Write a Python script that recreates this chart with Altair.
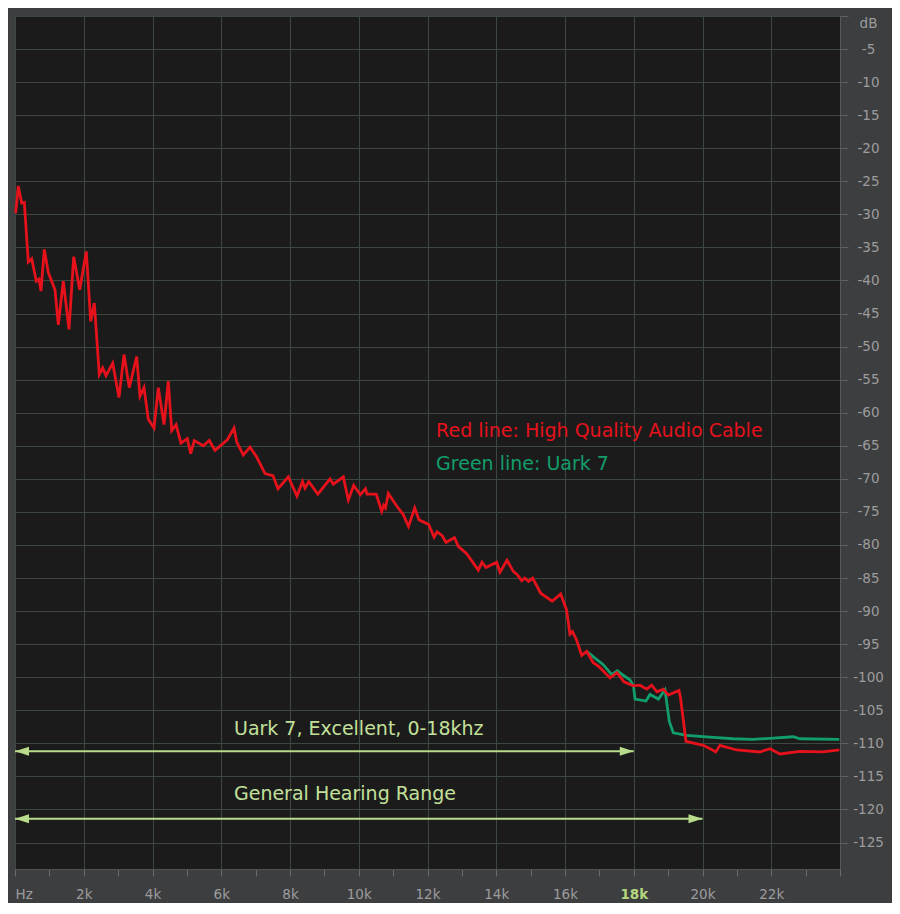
import altair as alt
import pandas as pd

# ---------------- data (Hz, dB) ----------------
red_f = [20, 96, 195, 271, 387, 486, 620, 698, 756, 852, 969, 1164, 1260, 1405, 1571, 1708,
         1882, 2074, 2202, 2307, 2452, 2551, 2647, 2842, 3025, 3171, 3325, 3540, 3636, 3753,
         3878, 4044, 4169, 4335, 4460, 4559, 4684, 4829, 5012, 5111, 5216, 5478, 5652, 5818,
         6176, 6371, 6449, 6641, 6836, 7031, 7273, 7505, 7651, 7951, 8204, 8364, 8436, 8544,
         8809, 9164, 9260, 9551, 9696, 9853, 10045, 10196, 10240, 10508, 10668, 10726, 10778,
         10860, 11104, 11296, 11447, 11628, 11753, 12035, 12192, 12279, 12428, 12538, 12786,
         12896, 13140, 13478, 13585, 13702, 14013, 14109, 14313, 14496, 14612, 14741, 14831,
         14938, 15060, 15293, 15627, 15875, 16044, 16145, 16218, 16340, 16486, 16631, 16823,
         16989, 17309, 17513, 17716, 17987, 18182, 18377, 18522, 18676, 18860, 19005, 19316,
         19360, 19520, 20023, 20218, 20384, 20509, 20995, 21673, 21964, 22255, 22836, 23514,
         23980]
red_db = [-29.8, -25.7, -28.3, -28.2, -37.2, -36.7, -40.1, -39.8, -41.6, -35.3, -38.8, -41.4,
          -46.7, -40.1, -47.4, -36.4, -41.4, -35.6, -46.2, -43.4, -54.2, -53.2, -54.4, -52.5,
          -57.7, -51.2, -56.2, -51.5, -57.5, -56.2, -61.0, -62.3, -56.2, -61.8, -55.2, -62.7,
          -61.8, -64.6, -63.9, -66.2, -64.2, -65.0, -64.2, -65.7, -64.1, -62.3, -64.4, -66.4,
          -65.2, -66.7, -69.2, -69.5, -71.5, -69.7, -72.6, -70.4, -71.4, -70.4, -72.3, -70.0,
          -70.8, -69.7, -73.2, -71.0, -72.4, -71.5, -72.3, -72.3, -74.9, -74.0, -74.4, -72.2,
          -74.1, -75.4, -77.2, -74.4, -76.2, -76.9, -78.8, -78.0, -78.6, -79.6, -78.9, -80.2,
          -81.3, -83.8, -82.6, -83.4, -82.6, -84.1, -82.3, -84.0, -84.5, -85.4, -85.0, -85.5,
          -85.0, -87.3, -88.5, -87.4, -89.8, -93.5, -93.1, -94.4, -96.7, -96.1, -97.8, -98.4,
          -100.1, -99.3, -100.7, -101.3, -101.2, -101.8, -101.2, -102.2, -101.8, -102.7,
          -102.0, -103.1, -109.7, -110.3, -110.8, -111.3, -110.3, -111.0, -111.3, -110.8,
          -111.6, -111.2, -111.3, -111.0]

green_f = [16631, 16873, 17114, 17359, 17522, 17696, 17891, 17993, 18036, 18356, 18473, 18714,
           18909, 19034, 19150, 19540, 20314, 20896, 21478, 22060, 22642, 22836, 23980]
green_db = [-96.1, -97.1, -98.1, -99.6, -99.0, -99.7, -100.4, -101.3, -103.3, -103.6, -102.6,
            -103.3, -101.9, -106.7, -108.4, -108.8, -109.1, -109.3, -109.4, -109.2, -109.0,
            -109.3, -109.4]

ann_text = ["Red line: High Quality Audio Cable", "Green line: Uark 7",
            "Uark 7, Excellent, 0-18khz", "General Hearing Range"]
ann_f = [12250, 12250, 6370, 6370]
ann_db = [-62.7, -67.7, -107.8, -117.7]

arrow_start = [0, 0]
arrow_end = [18000, 20000]
arrow_db = [-111.2, -121.4]

y_ticks = [0] + [-5 * i for i in range(1, 26)]
x_ticks = list(range(0, 24001, 1000))

# ---------------- styling ----------------
RED = "#e5121c"
GREEN = "#129e6b"
LIGHT = "#c3e09a"
ARROW = "#b9dc8c"
LABEL = "#9c9c9c"
GRID = "#3b473f"
FONT = "DejaVu Sans"

red_df = pd.DataFrame({"f": red_f, "db": red_db})
green_df = pd.DataFrame({"f": green_f, "db": green_db})
ann_df = pd.DataFrame({"f": ann_f, "db": ann_db, "t": ann_text,
                       "c": [RED, GREEN, LIGHT, LIGHT]})
arr_df = pd.DataFrame({"f": arrow_start, "f2": arrow_end, "db": arrow_db})

x_axis = alt.Axis(
    values=x_ticks, title=None, orient="bottom",
    labelExpr="datum.value === 0 ? 'Hz' : ((datum.value % 2000 === 0 && datum.value < 24000) ? (datum.value / 1000) + 'k' : '')",
    labelColor={"condition": {"test": "datum.value === 18000", "value": "#b3d67f"}, "value": LABEL},
    labelFontWeight={"condition": {"test": "datum.value === 18000", "value": "bold"}, "value": "normal"},
    labelFontSize=13.5, labelFont=FONT, labelPadding=11,
    tickSize=7, tickColor="#6a6a6a", domainColor="#505152",
    grid=True, gridColor=GRID,
    gridOpacity={"condition": {"test": "datum.value % 2000 === 0", "value": 1}, "value": 0},
)
y_axis = alt.Axis(
    values=y_ticks, title=None, orient="right",
    labelExpr="datum.value === 0 ? 'dB' : '-' + abs(datum.value)",
    labelAlign="center", labelPadding=20, labelFlush=True,
    labelFontSize=13.5, labelFont=FONT, labelColor=LABEL,
    tickSize=8, tickColor="#5f5f5f", domainColor="#575859",
    grid=True, gridColor=GRID,
)

X = alt.X("f:Q", scale=alt.Scale(domain=[0, 24000], nice=False, zero=False), axis=x_axis)
Y = alt.Y("db:Q", scale=alt.Scale(domain=[-129, 0], nice=False, zero=False), axis=y_axis)

green_line = alt.Chart(green_df).mark_line(color=GREEN, strokeWidth=2.8).encode(x=X, y=Y)
red_line = alt.Chart(red_df).mark_line(color=RED, strokeWidth=2.8).encode(x=X, y=Y)

texts = alt.Chart(ann_df).mark_text(
    align="left", baseline="middle", fontSize=19, font=FONT
).encode(x=X, y=Y, text="t:N", color=alt.Color("c:N", scale=None))

rules = alt.Chart(arr_df).mark_rule(color=ARROW, strokeWidth=2).encode(x=X, x2="f2:Q", y=Y)

left_heads = alt.Chart(arr_df).mark_point(
    shape="M0,0L1,-0.32L1,0.32Z", size=784, filled=True, color=ARROW, opacity=1, strokeWidth=0
).encode(x=X, y=Y)
right_heads = alt.Chart(arr_df).mark_point(
    shape="M0,0L-1,-0.32L-1,0.32Z", size=784, filled=True, color=ARROW, opacity=1, strokeWidth=0
).encode(x=alt.X("f2:Q", scale=alt.Scale(domain=[0, 24000], nice=False, zero=False), axis=x_axis), y=Y)

chart = alt.layer(
    green_line, red_line, texts, rules, left_heads, right_heads
).properties(
    width=825, height=853,
    autosize=alt.AutoSizeParams(type="none"),
    padding={"left": 7, "top": 8, "right": 52, "bottom": 34},
    background="#3d3e40",
).configure_view(
    fill="#1b1b1b", stroke="#474948", strokeWidth=1,
)

chart.save("out.html", embed_options={"renderer": "svg", "actions": False})
